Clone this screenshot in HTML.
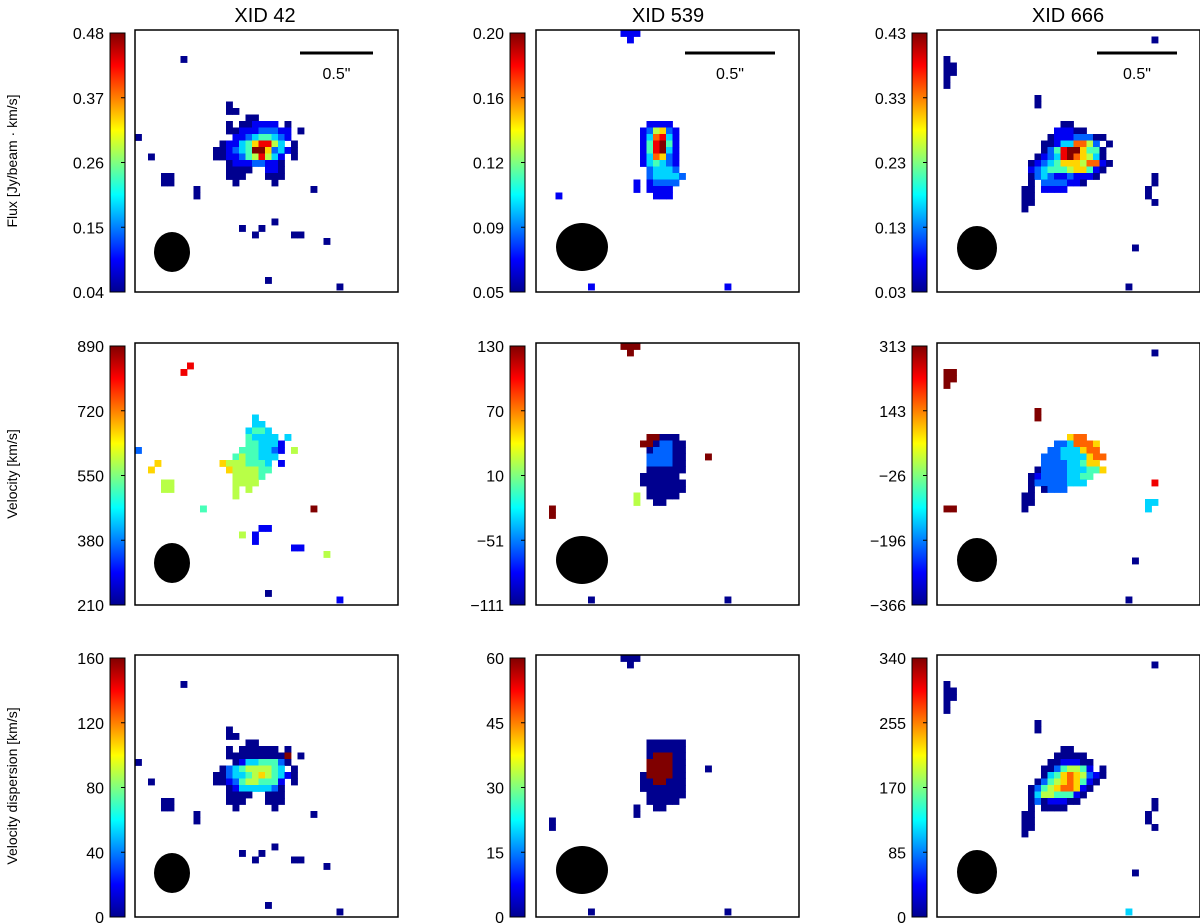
<!DOCTYPE html>
<html><head><meta charset="utf-8"><style>
html,body{margin:0;padding:0;background:#fff}
svg{display:block;font-family:"Liberation Sans","DejaVu Sans",sans-serif}
</style></head><body>
<svg id="fig" width="1200" height="924" viewBox="0 0 1200 924">
<defs><linearGradient id="jet" x1="0" y1="1" x2="0" y2="0">
<stop offset="0" stop-color="#00008f"/><stop offset="0.125" stop-color="#0000ff"/><stop offset="0.375" stop-color="#00ffff"/><stop offset="0.625" stop-color="#ffff00"/><stop offset="0.875" stop-color="#ff0000"/><stop offset="1" stop-color="#800000"/></linearGradient></defs>
<text x="265" y="22" font-size="20" text-anchor="middle">XID 42</text>
<text x="668" y="22" font-size="20" text-anchor="middle">XID 539</text>
<text x="1068" y="22" font-size="20" text-anchor="middle">XID 666</text>
<text transform="translate(17,161) rotate(-90)" font-size="14" text-anchor="middle">Flux [Jy/beam · km/s]</text>
<text transform="translate(17,474) rotate(-90)" font-size="14" text-anchor="middle">Velocity [km/s]</text>
<text transform="translate(17,786) rotate(-90)" font-size="14" text-anchor="middle">Velocity dispersion [km/s]</text>
</svg>
<script>
const colX=[135,536,937];
const rowY=[30,343,655];
const cbX=[110,510,912];
const tickLabels=[
 ["0.48","0.37","0.26","0.15","0.04"],["0.20","0.16","0.12","0.09","0.05"],["0.43","0.33","0.23","0.13","0.03"],
 ["890","720","550","380","210"],["130","70","10","\u221251","\u2212111"],["313","143","\u221226","\u2212196","\u2212366"],
 ["160","120","80","40","0"],["60","45","30","15","0"],["340","255","170","85","0"]];
const blobOffsets=[[12,11],[14,14],[12,14],[12,11],[14,14],[12,14],[12,11],[14,13],[12,14]];
const blobGrids=[
["..0...........","..00..........",".....00.......","..0.001111.0..","..0011122211.0","...112344321..",".0113468853.0.","0012349962310.","00112458531.0.","..011122110...","..0000..110...","..000...000...","...0.....0...."],
["...1111.","..125621","..137831","..148941","..148931","..137621","..134321","...23332","...233332","...12222.","...1111..","....111.."],
[".......00.....","......11100...",".....011122200","....001337752.0","....0248996440","...01238976530","..0123466657710","..123444566410","..02321121110","..0.2222110...",".00.1111......",".00...........",".00...........",".0............"],
["......3......","......33.....",".....3443....",".....43333.3.",".....443331..","....4443321.5","...4544333...",".65554443.1..","..6555544.....","...55554......","...5555......","...5.5.......","...5.........."],
["...99000.","..9902200","...022200","...222200","...222200","...000000","..000000.","..0000000","...000000","...00000.","....00..."],
["........677..","......2237776.",".....22333677","....2223333677","....222233466.","...02222333446","..0122223344..","..022222333...","..0.0222......",".00...........",".00...........",".0............"],
["..0...........","..00..........",".....00.......","..0.000000.0..","..0000000009.0","...013344420..",".0234555543.0.","0023345654310.","00124554441.0.","..013333320...","..0000..000...","..000...000...","...0.....0...."],
["...000000","...000000","...099900","...999900","...999900","..0999900","..0099000","..0000000","...000000","...00000.","....00..."],
[".......00.....","......00000...",".....0011100..","....00245541.0","....0346765210","...0245676410.","..0245677610..","..035544410...","..02011100....","..0.0000......",".00...........",".00...........",".00...........",".0............"]];
const s1=[[7,4,0],[0,16,0],[2,19,0],[4,22,0],[5,22,0],[4,23,0],[5,23,0],[9,25,0],[9,24,0],[16,30,0],[19,30,0],[18,31,0],[21,29,0],[25,31,0],[24,31,0],[29,32,0],[27,24,0],[20,38,0],[31,39,0]];
const s2=[[13,0,1],[14,0,1],[15,0,1],[14,1,1],[3,25,1],[15,23,1],[15,24,1],[8,39,1],[29,39,1]];
const s3=[[1,4,0],[1,5,0],[2,5,0],[1,6,0],[2,6,0],[1,7,0],[1,8,0],[15,10,0],[15,11,0],[33,22,0],[33,23,0],[32,24,0],[32,25,0],[33,26,0],[30,33,0],[29,39,0],[33,1,0]];
const s4=[[7,4,8],[8,3,8],[0,16,2],[2,19,6],[3,18,6],[4,22,5],[5,22,5],[4,21,5],[5,21,5],[10,25,4],[16,29,5],[19,28,1],[20,28,1],[18,29,1],[18,30,1],[25,31,1],[24,31,1],[29,32,5],[27,25,9],[20,38,0],[31,39,1]];
const s5=[[13,0,9],[14,0,9],[15,0,9],[14,1,9],[26,17,9],[2,25,9],[2,26,9],[15,23,5],[15,24,5],[8,39,0],[29,39,0]];
const s6=[[1,4,9],[2,4,9],[1,5,9],[2,5,9],[1,6,9],[15,10,9],[15,11,9],[1,25,9],[2,25,9],[33,21,8],[32,24,3],[33,24,3],[32,25,3],[30,33,0],[29,39,0],[33,1,0]];
const s8=[[13,0,0],[14,0,0],[15,0,0],[14,1,0],[26,17,0],[2,25,0],[2,26,0],[15,23,0],[15,24,0],[8,39,0],[29,39,0]];
const s9=s3.slice(0,-2).concat([[29,39,3],[33,1,0]]);
const singles=[s1,s2,s3,s4,s5,s6,s1,s8,s9];
const beams=[[172,252,18,20],[582,247,26,24],[977,248,20,22],[172,563,18,20],[582,560,26,24],[977,560,20,22],[172,873,18,20],[582,870,26,24],[977,872,20,22]];
const scaleBars=[[300,373],[685,775],[1097,1177]];
const CELL=6.5, W=263, H=262;
function jet(t){const st=[[0,[0,0,143]],[0.125,[0,0,255]],[0.375,[0,255,255]],[0.625,[255,255,0]],[0.875,[255,0,0]],[1,[128,0,0]]];
 for(let i=1;i<st.length;i++){if(t<=st[i][0]){const a=st[i-1],b=st[i],f=(t-a[0])/(b[0]-a[0]);return 'rgb('+a[1].map((v,k)=>Math.round(v+(b[1][k]-v)*f)).join(',')+')';}}return 'rgb(128,0,0)';}
const svg=document.getElementById('fig');const NS='http://www.w3.org/2000/svg';
function mk(tag,attrs,parent){const e=document.createElementNS(NS,tag);for(const k in attrs)e.setAttribute(k,attrs[k]);(parent||svg).appendChild(e);return e;}
for(let p=0;p<9;p++){
 const r=Math.floor(p/3),c=p%3,x0=colX[c],y0=rowY[r];
 const g=mk('g',{});
 
 
 const cells=[];
 blobGrids[p].forEach((row,ri)=>{for(let ci=0;ci<row.length;ci++){const ch=row[ci];if(ch!=='.')cells.push([blobOffsets[p][0]+ci,blobOffsets[p][1]+ri,+ch]);}});
 singles[p].forEach(s=>cells.push(s));
 cells.forEach(([cx,cy,v])=>{
  const cl=mk('rect',{x:x0+cx*CELL,y:y0+cy*CELL,width:CELL+0.4,height:CELL+0.4,fill:jet(v/9)},g);
  
  
 });
 const b=beams[p];
 const be=mk('ellipse',{cx:b[0],cy:b[1],rx:b[2],ry:b[3],fill:'#000'},g);
 
 
 const fr=mk('rect',{x:x0,y:y0,width:W,height:H,fill:'none',stroke:'#000','stroke-width':1.5},g);
 
 
 const cb=mk('rect',{x:cbX[c],y:y0+3,width:15,height:H-3,fill:'url(#jet)',stroke:'#000','stroke-width':1},g);
 
 
 tickLabels[p].forEach((t,i)=>{
  const ty=y0+3+i*(H-3)/4;
  const tl=mk('text',{x:cbX[c]-6,y:ty+6,'font-size':16,'text-anchor':'end'},g);
  tl.textContent=t;
  
  
  mk('line',{x1:cbX[c]+11,x2:cbX[c]+15,y1:ty,y2:ty,stroke:'#000'},g);
 });
 if(r===0){const sb=scaleBars[c];
  const ln=mk('line',{x1:sb[0],x2:sb[1],y1:53,y2:53,stroke:'#000','stroke-width':3},g);
  
  
  const st=mk('text',{x:(sb[0]+sb[1])/2,y:79,'font-size':16,'text-anchor':'middle'},g);
  st.textContent='0.5"';
  
  
 }
}
</script>
</body></html>
